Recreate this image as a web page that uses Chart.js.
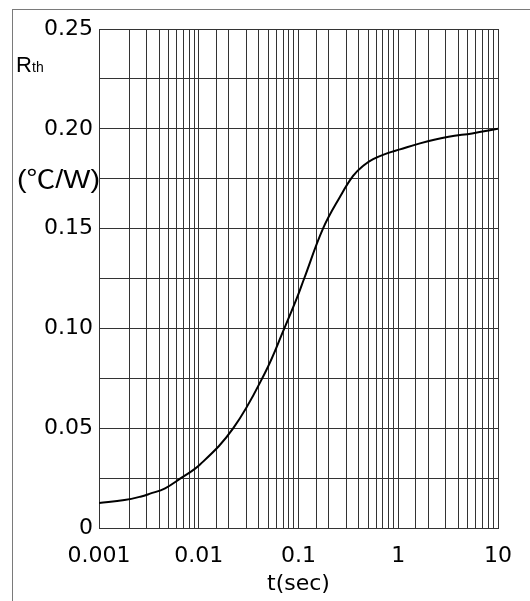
<!DOCTYPE html>
<html>
<head>
<meta charset="utf-8">
<script src="https://cdn.jsdelivr.net/npm/chart.js@4.4.0/dist/chart.umd.min.js"></script>
<style>
    body { margin: 0; background: #fff; overflow: hidden; }
    #moldura { position: absolute; left: 12px; top: 9px; width: 600px; height: 700px;
               border-left: 1px solid #7a7a7a; border-top: 1px solid #7a7a7a; }
    #caixa { position: absolute; left: 0; top: 0; width: 530px; height: 601px; }
</style>
</head>
<body>
<div id="moldura"></div>
<div id="caixa"><canvas id="grafico"></canvas></div>
<script>
// Dados (t em segundos, Rth em °C/W)
const tempos = [0.001, 0.0018, 0.0026, 0.00325, 0.0046, 0.0065, 0.0103, 0.0222, 0.0462,
                0.0721, 0.096, 0.114, 0.176, 0.261, 0.354, 0.446, 0.56, 0.77, 1.04, 1.65, 3.2, 5.5, 10];
const resistencias = [0.0125, 0.014, 0.0157, 0.0172, 0.0199, 0.0247, 0.0318, 0.050, 0.0778,
                      0.100, 0.115, 0.125, 0.150, 0.166, 0.1765, 0.1815, 0.1848, 0.1877, 0.1897, 0.1927, 0.196, 0.1977, 0.200];

// Rótulos dos eixos
const marcasX = [0.001, 0.01, 0.1, 1, 10];
const rotulosX = ['0.001', '0.01', '0.1', '1', '10'];
const marcasY = [0, 0.05, 0.10, 0.15, 0.20, 0.25];
const rotulosY = ['0', '0.05', '0.10', '0.15', '0.20', '0.25'];

const fonteEixo = { family: "'DejaVu Sans', sans-serif", size: 22 };
const corGrade = '#333333';

function rotuloPara(valor, marcas, rotulos, relativo) {
    for (let i = 0; i < marcas.length; i++) {
        const dif = Math.abs(valor - marcas[i]);
        const tol = relativo ? marcas[i] * 1e-6 : 1e-9;
        if (dif <= tol) return rotulos[i];
    }
    return '';
}

// Textos extras do eixo Y (Rth e unidade)
const textosExtras = {
    id: 'textosExtras',
    afterDraw(chart) {
        const ctx = chart.ctx;
        ctx.save();
        ctx.fillStyle = '#000';
        ctx.textAlign = 'left';
        ctx.textBaseline = 'alphabetic';
        ctx.font = "22px 'Liberation Sans', sans-serif";
        ctx.fillText('R', 16, 72);
        ctx.font = "14px 'Liberation Sans', sans-serif";
        ctx.fillText('th', 32, 72);

        ctx.font = "25px 'Liberation Sans', 'Noto Sans CJK SC', sans-serif";
        const texto = '(℃/W)';
        const larg = ctx.measureText(texto).width;
        ctx.translate(17, 188);
        ctx.scale(83 / larg, 1);
        ctx.fillText(texto, 0, 0);
        ctx.restore();
    }
};

const ctx = document.getElementById('grafico').getContext('2d');
const grafico = new Chart(ctx, {
    type: 'line',
    data: {
        datasets: [{
            data: tempos.map((t, i) => ({ x: t, y: resistencias[i] })),
            borderColor: '#000',
            borderWidth: 2,
            pointRadius: 0,
            fill: false,
            tension: 0.4
        }]
    },
    options: {
        responsive: true,
        maintainAspectRatio: false,
        animation: false,
        layout: { padding: { left: 0, top: 29, right: 32, bottom: 0 } },
        plugins: {
            legend: { display: false },
            tooltip: { enabled: false }
        },
        scales: {
            x: {
                type: 'logarithmic',
                min: 0.001,
                max: 10,
                afterFit: (escala) => { escala.height = 73; },
                grid: { color: corGrade, lineWidth: 1, drawTicks: false },
                border: { display: true, color: corGrade, width: 1 },
                ticks: {
                    autoSkip: false,
                    maxRotation: 0,
                    padding: 15,
                    color: '#000',
                    font: fonteEixo,
                    callback: (valor) => rotuloPara(valor, marcasX, rotulosX, true)
                },
                title: {
                    display: true,
                    text: 't(sec)',
                    color: '#000',
                    font: fonteEixo,
                    padding: { top: 0, bottom: 4 }
                }
            },
            y: {
                min: 0,
                max: 0.25,
                afterFit: (escala) => { escala.width = 99; },
                grid: { color: corGrade, lineWidth: 1, drawTicks: false },
                border: { display: true, color: corGrade, width: 1 },
                ticks: {
                    stepSize: 0.025,
                    autoSkip: false,
                    padding: 6,
                    color: '#000',
                    font: fonteEixo,
                    callback: (valor) => rotuloPara(valor, marcasY, rotulosY, false)
                }
            }
        }
    },
    plugins: [textosExtras]
});
</script>
</body>
</html>
